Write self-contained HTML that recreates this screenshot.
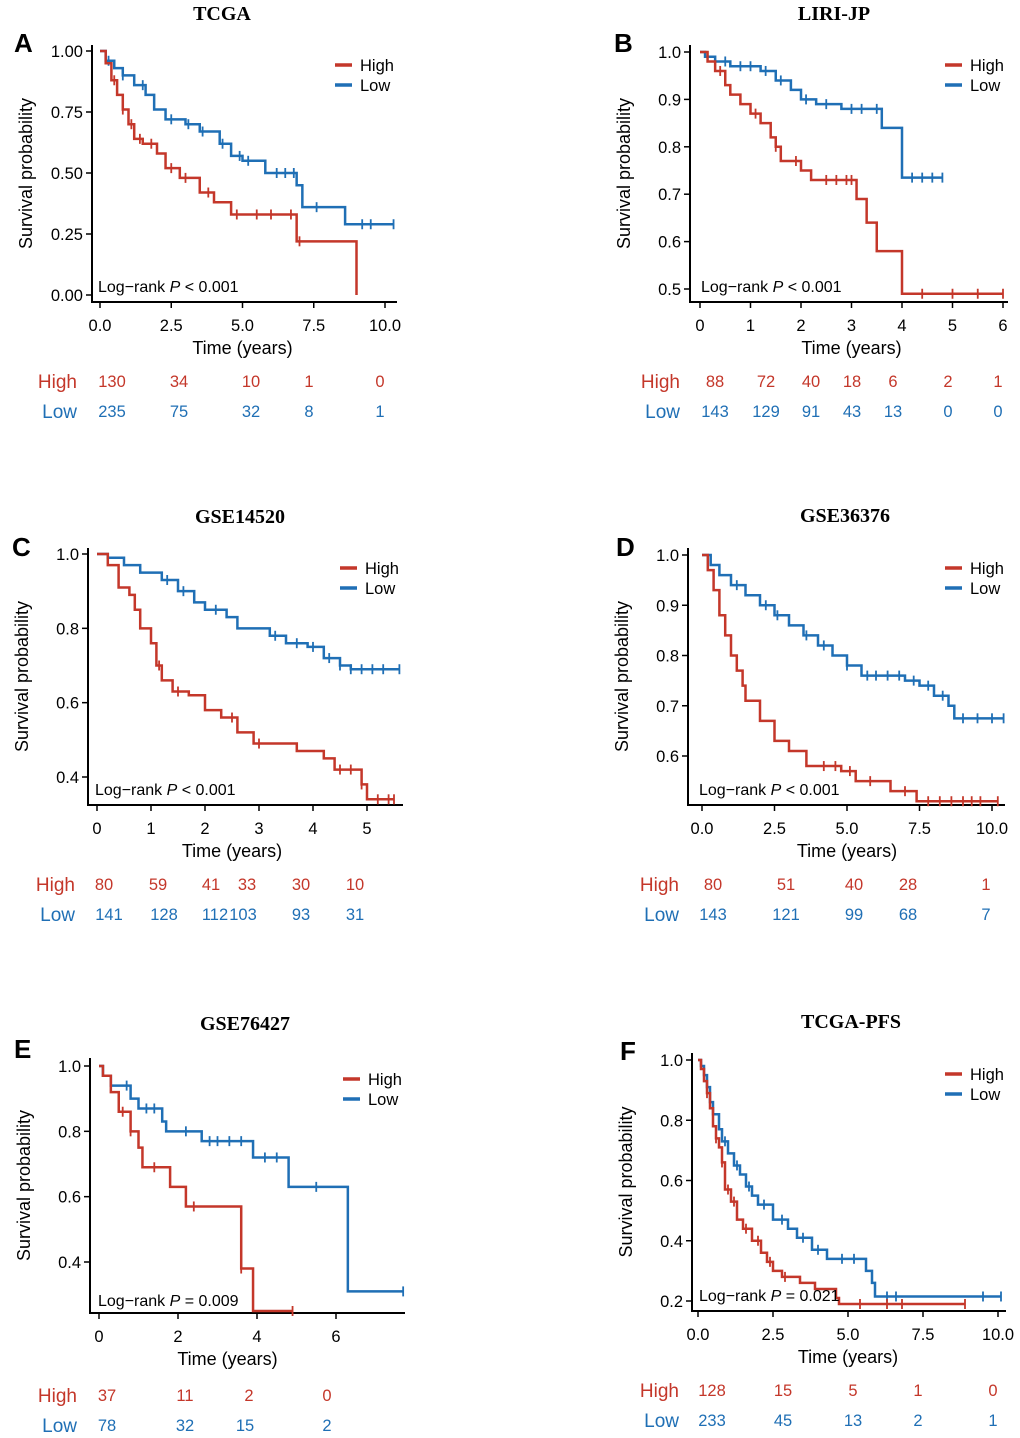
<!DOCTYPE html>
<html><head><meta charset="utf-8">
<style>
body{margin:0;background:#fff;}
svg{display:block;font-family:"Liberation Sans",sans-serif;}
.ttl{font-family:"Liberation Serif",serif;font-weight:bold;font-size:20px;}
</style></head>
<body>
<svg id="fig" width="1020" height="1438" viewBox="0 0 1020 1438"></svg>
<script>
// ---- Data arrays ----
const aHighSteps=[[0.2,0.95],[0.4,0.88],[0.6,0.82],[0.8,0.76],[1.0,0.70],[1.2,0.64],[1.5,0.62],[2.0,0.58],[2.3,0.52],[2.8,0.48],[3.5,0.42],[4.0,0.38],[4.6,0.33],[6.9,0.22],[9.0,0.0]];
const aHighCens=[0.5,0.8,1.1,1.4,1.8,2.5,3.0,3.8,4.8,5.5,6.0,6.7,7.0];
const aLowSteps=[[0.2,0.96],[0.5,0.93],[0.8,0.90],[1.2,0.86],[1.6,0.82],[1.9,0.76],[2.3,0.72],[3.0,0.70],[3.5,0.67],[4.2,0.62],[4.6,0.57],[5.0,0.55],[5.8,0.50],[6.9,0.45],[7.1,0.36],[8.6,0.29]];
const aLowCens=[0.3,0.8,1.5,2.5,3.1,3.6,4.3,4.9,5.2,6.2,6.5,6.8,7.6,9.2,9.5,10.3];
const bHighSteps=[[0.15,0.98],[0.3,0.96],[0.5,0.93],[0.6,0.91],[0.8,0.89],[1.0,0.87],[1.2,0.85],[1.4,0.82],[1.5,0.80],[1.6,0.77],[2.0,0.75],[2.2,0.73],[3.1,0.69],[3.3,0.64],[3.5,0.58],[4.0,0.49]];
const bHighCens=[0.4,1.1,1.5,1.9,2.5,2.7,2.9,3.0,4.4,5.0,5.5,6.0];
const bLowSteps=[[0.1,0.99],[0.3,0.98],[0.6,0.97],[1.2,0.96],[1.5,0.94],[1.8,0.92],[2.0,0.90],[2.3,0.89],[2.8,0.88],[3.6,0.84],[4.0,0.735]];
const bLowCens=[0.5,0.8,1.0,1.3,1.6,2.1,2.5,3.0,3.2,3.5,4.2,4.4,4.6,4.8];
const cHighSteps=[[0.2,0.97],[0.4,0.91],[0.6,0.89],[0.7,0.85],[0.8,0.80],[1.0,0.76],[1.1,0.70],[1.2,0.66],[1.4,0.63],[1.7,0.62],[2.0,0.58],[2.3,0.56],[2.6,0.52],[2.9,0.49],[3.7,0.47],[4.2,0.45],[4.4,0.42],[4.9,0.38],[5.0,0.34]];
const cHighCens=[1.15,1.5,2.5,3.0,4.5,4.7,4.9,5.2,5.4,5.5];
const cLowSteps=[[0.2,0.99],[0.5,0.97],[0.8,0.95],[1.2,0.93],[1.5,0.90],[1.8,0.87],[2.0,0.85],[2.4,0.83],[2.6,0.80],[3.2,0.78],[3.5,0.76],[3.9,0.75],[4.2,0.72],[4.5,0.70],[4.7,0.69]];
const cLowCens=[1.3,1.6,2.2,3.3,3.7,4.0,4.3,4.5,4.7,4.9,5.1,5.3,5.6];
const dHighSteps=[[0.2,0.97],[0.4,0.93],[0.6,0.88],[0.8,0.84],[1.0,0.80],[1.2,0.77],[1.4,0.74],[1.5,0.71],[2.0,0.67],[2.5,0.63],[3.0,0.61],[3.6,0.58],[4.8,0.57],[5.3,0.55],[6.5,0.53],[7.4,0.51]];
const dHighCens=[4.2,4.6,5.1,5.8,7.0,7.8,8.2,8.6,9.0,9.3,9.6,10.2];
const dLowSteps=[[0.3,0.98],[0.6,0.96],[1.0,0.94],[1.5,0.92],[2.0,0.90],[2.5,0.88],[3.0,0.86],[3.5,0.84],[4.0,0.82],[4.5,0.80],[5.0,0.78],[5.5,0.76],[7.0,0.75],[7.5,0.74],[8.0,0.72],[8.5,0.70],[8.7,0.675]];
const dLowCens=[1.2,2.2,2.6,3.6,4.2,5.0,5.7,6.0,6.4,6.8,7.3,7.8,8.3,9.0,9.5,10.0,10.4];
const eHighSteps=[[0.1,0.97],[0.3,0.92],[0.5,0.86],[0.8,0.80],[1.0,0.75],[1.1,0.69],[1.8,0.63],[2.2,0.57],[3.6,0.38],[3.9,0.25]];
const eHighCens=[0.6,0.8,1.4,2.4,3.6,4.9];
const eLowSteps=[[0.1,0.97],[0.3,0.94],[0.8,0.90],[1.0,0.87],[1.6,0.83],[1.7,0.80],[2.6,0.77],[3.9,0.72],[4.8,0.63],[6.3,0.31]];
const eLowCens=[0.7,1.2,1.4,2.2,2.8,3.0,3.3,3.6,4.2,4.5,5.5,7.7];
const fHighSteps=[[0.1,0.97],[0.2,0.93],[0.3,0.89],[0.4,0.84],[0.5,0.78],[0.6,0.74],[0.7,0.71],[0.8,0.66],[0.9,0.57],[1.1,0.53],[1.3,0.47],[1.5,0.44],[1.8,0.40],[2.1,0.36],[2.3,0.33],[2.5,0.30],[2.8,0.28],[3.4,0.26],[3.9,0.24],[4.6,0.21],[4.7,0.19]];
const fHighCens=[0.3,0.6,0.8,1.0,1.2,1.6,2.0,2.4,2.9,5.4,6.3,6.8,8.9];
const fLowSteps=[[0.1,0.98],[0.2,0.95],[0.3,0.91],[0.4,0.86],[0.5,0.82],[0.7,0.77],[0.8,0.73],[1.0,0.69],[1.2,0.65],[1.4,0.62],[1.6,0.58],[1.8,0.55],[2.0,0.52],[2.5,0.47],[3.0,0.44],[3.3,0.41],[3.8,0.37],[4.3,0.34],[5.6,0.30],[5.8,0.26],[5.9,0.215]];
const fLowCens=[0.5,0.9,1.3,1.7,2.2,2.8,3.5,4.0,4.8,5.2,6.3,6.6,9.5,10.1];

const aXTicks=[0,2.5,5,7.5,10], aXLabels=["0.0","2.5","5.0","7.5","10.0"], aYTicks=[0,0.25,0.5,0.75,1], aYLabels=["0.00","0.25","0.50","0.75","1.00"];
const bXTicks=[0,1,2,3,4,5,6], bYTicks=[0.5,0.6,0.7,0.8,0.9,1.0];
const cXTicks=[0,1,2,3,4,5], cYTicks=[0.4,0.6,0.8,1.0];
const dXTicks=[0,2.5,5,7.5,10], dYTicks=[0.6,0.7,0.8,0.9,1.0];
const eXTicks=[0,2,4,6], eYTicks=[0.4,0.6,0.8,1.0];
const fXTicks=[0,2.5,5,7.5,10], fYTicks=[0.2,0.4,0.6,0.8,1.0];

const aRiskHigh=["130","34","10","1","0"], aRiskLow=["235","75","32","8","1"];
const bRiskHigh=["88","72","40","18","6","2","1"], bRiskLow=["143","129","91","43","13","0","0"];
const cRiskHigh=["80","59","41","33","30","10"], cRiskLow=["141","128","112","103","93","31"];
const dRiskHigh=["80","51","40","28","1"], dRiskLow=["143","121","99","68","7"];
const eRiskHigh=["37","11","2","0"], eRiskLow=["78","32","15","2"];
const fRiskHigh=["128","15","5","1","0"], fRiskLow=["233","45","13","2","1"];

const RED="#c4372a", BLUE="#1f6fb5";
const NS="http://www.w3.org/2000/svg";
const svg=document.getElementById('fig');
function mk(tag,attrs,parent,txt){const e=document.createElementNS(NS,tag);for(const k in attrs)e.setAttribute(k,attrs[k]);if(txt!==undefined)e.textContent=txt;(parent||svg).appendChild(e);return e;}

const panels=[
 {id:'a',letter:'A',title:'TCGA',tx:222,ty:20,lx:14,ly:52,ax:92,top:45,bot:302,x0:100,x1:385,t0:0,t1:10,ys0:295,ys1:51,v0:0,v1:1,xr:397,
  xt:aXTicks,xl:aXLabels,yt:aYTicks,yl:aYLabels,hs:aHighSteps,hc:aHighCens,ls:aLowSteps,lc:aLowCens,hend:9.0,lend:10.3,
  leg:[335,65],p:"< 0.001",px:98,py:292,rh:aRiskHigh,rl:aRiskLow,rx:[112,179,251,309,380],rlx:[112,179,251,309,380],ry:[388,418],rlab:77},
 {id:'b',letter:'B',title:'LIRI-JP',tx:834,ty:20,lx:614,ly:52,ax:690,top:45,bot:302,x0:700,x1:1003,t0:0,t1:6,ys0:289,ys1:52,v0:0.5,v1:1,xr:1008,
  xt:bXTicks,yt:bYTicks,hs:bHighSteps,hc:bHighCens,ls:bLowSteps,lc:bLowCens,hend:6.0,lend:4.8,dec:1,
  leg:[945,65],p:"< 0.001",px:701,py:292,rh:bRiskHigh,rl:bRiskLow,rx:[715,766,811,852,893,948,998],rlx:[715,766,811,852,893,948,998],ry:[388,418],rlab:680},
 {id:'c',letter:'C',title:'GSE14520',tx:240,ty:523,lx:12,ly:556,ax:88,top:548,bot:805,x0:97,x1:367,t0:0,t1:5,ys0:777,ys1:554,v0:0.4,v1:1,xr:403,
  xt:cXTicks,yt:cYTicks,hs:cHighSteps,hc:cHighCens,ls:cLowSteps,lc:cLowCens,hend:5.5,lend:5.6,dec:1,int:1,
  leg:[340,568],p:"< 0.001",px:95,py:795,rh:cRiskHigh,rl:cRiskLow,rx:[104,158,211,247,301,355],rlx:[109,164,215,243,301,355],ry:[891,921],rlab:75},
 {id:'d',letter:'D',title:'GSE36376',tx:845,ty:522,lx:616,ly:556,ax:688,top:548,bot:805,x0:702,x1:992,t0:0,t1:10,ys0:756,ys1:555,v0:0.6,v1:1,xr:1005,
  xt:dXTicks,xl:["0.0","2.5","5.0","7.5","10.0"],yt:dYTicks,hs:dHighSteps,hc:dHighCens,ls:dLowSteps,lc:dLowCens,hend:10.2,lend:10.4,dec:1,
  leg:[945,568],p:"< 0.001",px:699,py:795,rh:dRiskHigh,rl:dRiskLow,rx:[713,786,854,908,986],rlx:[713,786,854,908,986],ry:[891,921],rlab:679},
 {id:'e',letter:'E',title:'GSE76427',tx:245,ty:1030,lx:14,ly:1058,ax:90,top:1058,bot:1313,x0:99,x1:336,t0:0,t1:6,ys0:1262,ys1:1066,v0:0.4,v1:1,xr:405,
  xt:eXTicks,yt:eYTicks,hs:eHighSteps,hc:eHighCens,ls:eLowSteps,lc:eLowCens,hend:4.9,lend:7.7,dec:1,int:1,
  leg:[343,1079],p:"= 0.009",px:98,py:1306,rh:eRiskHigh,rl:eRiskLow,rx:[107,185,249,327],rlx:[107,185,245,327],ry:[1402,1432],rlab:77},
 {id:'f',letter:'F',title:'TCGA-PFS',tx:851,ty:1028,lx:620,ly:1060,ax:692,top:1053,bot:1311,x0:698,x1:998,t0:0,t1:10,ys0:1301,ys1:1060,v0:0.2,v1:1,xr:1006,
  xt:fXTicks,xl:["0.0","2.5","5.0","7.5","10.0"],yt:fYTicks,hs:fHighSteps,hc:fHighCens,ls:fLowSteps,lc:fLowCens,hend:8.9,lend:10.1,dec:1,
  leg:[945,1074],p:"= 0.021",px:699,py:1301,rh:fRiskHigh,rl:fRiskLow,rx:[712,783,853,918,993],rlx:[712,783,853,918,993],ry:[1397,1427],rlab:679}
];

panels.forEach(P=>{
  const g=mk('g',{});
  
  
  const X=t=>P.x0+(t-P.t0)/(P.t1-P.t0)*(P.x1-P.x0);
  const Y=v=>P.ys0+(v-P.v0)/(P.v1-P.v0)*(P.ys1-P.ys0);
  let e=mk('text',{x:P.tx,y:P.ty,'text-anchor':'middle',class:'ttl'},g,P.title);
  
  e=mk('text',{x:P.lx,y:P.ly,'font-size':26,'font-weight':'bold'},g,P.letter);
  
  e=mk('line',{x1:P.ax,y1:P.top,x2:P.ax,y2:P.bot,stroke:'#000','stroke-width':2},g);
  
  e=mk('line',{x1:P.ax-1,y1:P.bot,x2:P.xr,y2:P.bot,stroke:'#000','stroke-width':2},g);
  
  P.yt.forEach((v,i)=>{
    const y=Y(v);
    mk('line',{x1:P.ax-6,y1:y,x2:P.ax,y2:y,stroke:'#000','stroke-width':1.5},g);
    const lab=P.yl?P.yl[i]:v.toFixed(1);
    e=mk('text',{x:P.ax-9,y:y+6,'text-anchor':'end','font-size':16.5},g,lab);
    
  });
  P.xt.forEach((t,i)=>{
    const x=X(t);
    mk('line',{x1:x,y1:P.bot,x2:x,y2:P.bot+6,stroke:'#000','stroke-width':1.5},g);
    const lab=P.xl?P.xl[i]:String(t);
    e=mk('text',{x:x,y:P.bot+29,'text-anchor':'middle','font-size':16.5},g,lab);
    
  });
  const midy=(P.top+P.bot)/2;
  e=mk('text',{x:(P.x0+P.x1)/2+ (P.id==='e'?10:0),y:P.bot+52,'text-anchor':'middle','font-size':18},g,'Time (years)');
  
  e=mk('text',{x:0,y:0,'text-anchor':'middle','font-size':18,transform:`translate(${P.ax-60},${midy}) rotate(-90)`},g,'Survival probability');
  
  function curve(steps,cens,end,col,name){
    let d=`M${X(0)},${Y(1)}`;
    steps.forEach(s=>{d+=`H${X(s[0])}V${Y(s[1])}`;});
    if(end>steps[steps.length-1][0]) d+=`H${X(end)}`;
    let p=mk('path',{d:d,fill:'none',stroke:col,'stroke-width':2.5},g);
    
    const sv=t=>{let v=1;steps.forEach(s=>{if(s[0]<=t)v=s[1];});return v;};
    cens.forEach(t=>{
      const x=X(t),y=Y(sv(t));
      let c=mk('path',{d:`M${x},${y-5}V${y+5}`,stroke:col,'stroke-width':1.8},g);
      
    });
  }
  curve(P.ls,P.lc,P.lend,BLUE,'low');
  curve(P.hs,P.hc,P.hend,RED,'high');
  [['High',RED],['Low',BLUE]].forEach((L,i)=>{
    const y=P.leg[1]+i*20;
    const lg=mk('g',{},g);
    
    
    mk('line',{x1:P.leg[0],y1:y,x2:P.leg[0]+17,y2:y,stroke:L[1],'stroke-width':3.5},lg);
    mk('text',{x:P.leg[0]+25,y:y+6,'font-size':16.5},lg,L[0]);
  });
  e=mk('text',{x:P.px,y:P.py,'font-size':16},g);
  
  e.innerHTML='Log−rank <tspan font-style="italic">P</tspan> '+P.p;
  [[P.rh,RED,'High',P.rx],[P.rl,BLUE,'Low',P.rlx]].forEach((R,i)=>{
    const y=P.ry[i];
    let t=mk('text',{x:P.rlab,y:y,'text-anchor':'end','font-size':19,fill:R[1]},g,R[2]);
    
    R[0].forEach((n,j)=>{
      let tt=mk('text',{x:R[3][j],y:y-1,'text-anchor':'middle','font-size':16.5,fill:R[1]},g,n);
      
    });
  });
});
</script>
</body></html>
